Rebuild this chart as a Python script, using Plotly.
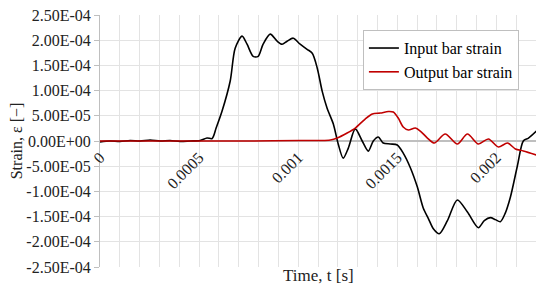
import plotly.graph_objects as go

# time [s] and strain values
t_in = [0, 0.0000505, 0.000101, 0.000152, 0.000202, 0.000253, 0.000303, 0.000354,
        0.000404, 0.000455, 0.000505, 0.000540, 0.000566, 0.000586, 0.000616, 0.000657,
        0.000682, 0.000717, 0.000742, 0.000773, 0.000798, 0.000823, 0.000859, 0.000894,
        0.000919, 0.000944, 0.000975, 0.001010, 0.001045, 0.001071, 0.001096, 0.001121,
        0.001146, 0.001177, 0.001202, 0.001227, 0.001253, 0.001288, 0.001323, 0.001354,
        0.001379, 0.001404, 0.001429, 0.001465, 0.001500, 0.001530, 0.001566, 0.001601,
        0.001631, 0.001657, 0.001682, 0.001712, 0.001753, 0.001803, 0.001854, 0.001909,
        0.001939, 0.001970, 0.001995, 0.002020, 0.002045, 0.002071, 0.002106, 0.002136,
        0.002162, 0.002202]
strain_in = [-2.0e-6, 0, -1.0e-6, 1.0e-6, 0, 2.0e-6, 0, 1.0e-6,
             -1.0e-6, 0, 1.0e-6, 5.9e-6, 5.0e-6, 2.57e-5, 5.94e-5, 1.19e-4,
             1.84e-4, 2.08e-4, 1.92e-4, 1.68e-4, 1.68e-4, 1.92e-4, 2.12e-4, 1.98e-4,
             1.92e-4, 1.98e-4, 2.04e-4, 1.92e-4, 1.82e-4, 1.74e-4, 1.45e-4, 9.9e-5,
             6.5e-5, 3.4e-5, -5.9e-6, -3.4e-5, -1.4e-5, 2.4e-5, 0, -2.0e-5,
             0, 7.9e-6, -4.0e-6, -5.9e-6, -7.9e-6, -2.4e-5, -5.3e-5, -9.1e-5,
             -1.33e-4, -1.54e-4, -1.74e-4, -1.84e-4, -1.58e-4, -1.17e-4, -1.41e-4, -1.72e-4,
             -1.58e-4, -1.52e-4, -1.56e-4, -1.60e-4, -1.43e-4, -1.11e-4, -4.95e-5, 0,
             5.9e-6, 1.98e-5]

t_out = [0, 0.000253, 0.000505, 0.000758, 0.001010, 0.001111, 0.001162, 0.001197,
         0.001247, 0.001288, 0.001338, 0.001374, 0.001414, 0.001455, 0.001480, 0.001505,
         0.001530, 0.001556, 0.001591, 0.001616, 0.001652, 0.001687, 0.001742, 0.001803,
         0.001854, 0.001909, 0.001960, 0.002010, 0.002056, 0.002096, 0.002136, 0.002202]
strain_out = [0, 0, 0, 0, 1.0e-6, 1.0e-6, 2.0e-6, 5.9e-6,
              1.58e-5, 2.57e-5, 4.36e-5, 5.35e-5, 5.54e-5, 5.84e-5, 5.74e-5, 4.55e-5,
              2.77e-5, 2.18e-5, 2.57e-5, 1.98e-5, 5.9e-6, -4.0e-6, 1.39e-5, -5.9e-6,
              1.39e-5, -5.9e-6, 4.0e-6, -1.19e-5, -4.0e-6, -1.58e-5, -1.98e-5, -2.77e-5]

x_ticks = [0, 0.0005, 0.001, 0.0015, 0.002]
x_labels = ["0", "0.0005", "0.001", "0.0015", "0.002"]
y_ticks = [-2.5e-4, -2.0e-4, -1.5e-4, -1.0e-4, -5.0e-5, 0, 5.0e-5, 1.0e-4, 1.5e-4, 2.0e-4, 2.5e-4]
y_labels = [f"{v:.2E}" for v in y_ticks]

serif = "Liberation Serif, Times New Roman, serif"
grid = "#e3e3e3"
txt = "#222"

fig = go.Figure()
fig.add_trace(go.Scatter(x=t_in, y=strain_in, mode="lines", name="Input bar strain",
                         line=dict(color="black", width=1.6, shape="spline", smoothing=0.8)))
fig.add_trace(go.Scatter(x=t_out, y=strain_out, mode="lines", name="Output bar strain",
                         line=dict(color="#c00000", width=1.6, shape="spline", smoothing=0.8)))

# the page body adds 8px, so the figure is 8px smaller and shifted
fig.update_layout(
    width=542, height=288,
    margin=dict(l=92, r=14, t=7, b=29),
    paper_bgcolor="white", plot_bgcolor="white",
    font=dict(family=serif, size=16, color=txt),
    showlegend=True,
    legend=dict(x=0.603, y=0.94, xanchor="left", yanchor="top",
                bordercolor="#bfbfbf", borderwidth=1, bgcolor="white",
                font=dict(family=serif, size=16, color="black"),
                itemwidth=30, tracegroupgap=0),
    xaxis=dict(range=[0, 0.0022], tickmode="array", tickvals=x_ticks, ticktext=x_labels,
               tickangle=-45, anchor="free", position=0.5, automargin=False,
               layer="below traces",
               showline=True, linecolor="#bfbfbf", linewidth=2,
               showgrid=True, gridcolor=grid, gridwidth=1, zeroline=False,
               minor=dict(tickmode="linear", tick0=0, dtick=0.0001, showgrid=True,
                          gridcolor=grid, gridwidth=1),
               tickfont=dict(family=serif, size=16, color=txt)),
    yaxis=dict(range=[-2.5e-4, 2.5e-4], tickmode="array", tickvals=y_ticks, ticktext=y_labels,
               automargin=False, ticklabeloverflow="allow", layer="below traces",
               showline=True, linecolor="#bfbfbf", linewidth=1,
               ticks="outside", ticklen=5, tickcolor="#bfbfbf",
               showgrid=True, gridcolor=grid, gridwidth=1, zeroline=False,
               tickfont=dict(family=serif, size=16, color=txt)),
    annotations=[
        dict(text="Time, t [s]", x=0.5, y=-0.035, xref="paper", yref="paper",
             xanchor="center", yanchor="middle", showarrow=False,
             font=dict(family=serif, size=17, color=txt)),
        dict(text="Strain, ε [−]", x=-0.192, y=0.5, xref="paper", yref="paper",
             xanchor="center", yanchor="middle", showarrow=False, textangle=-90,
             font=dict(family=serif, size=16, color=txt)),
    ],
)

fig.write_html("out.html")
